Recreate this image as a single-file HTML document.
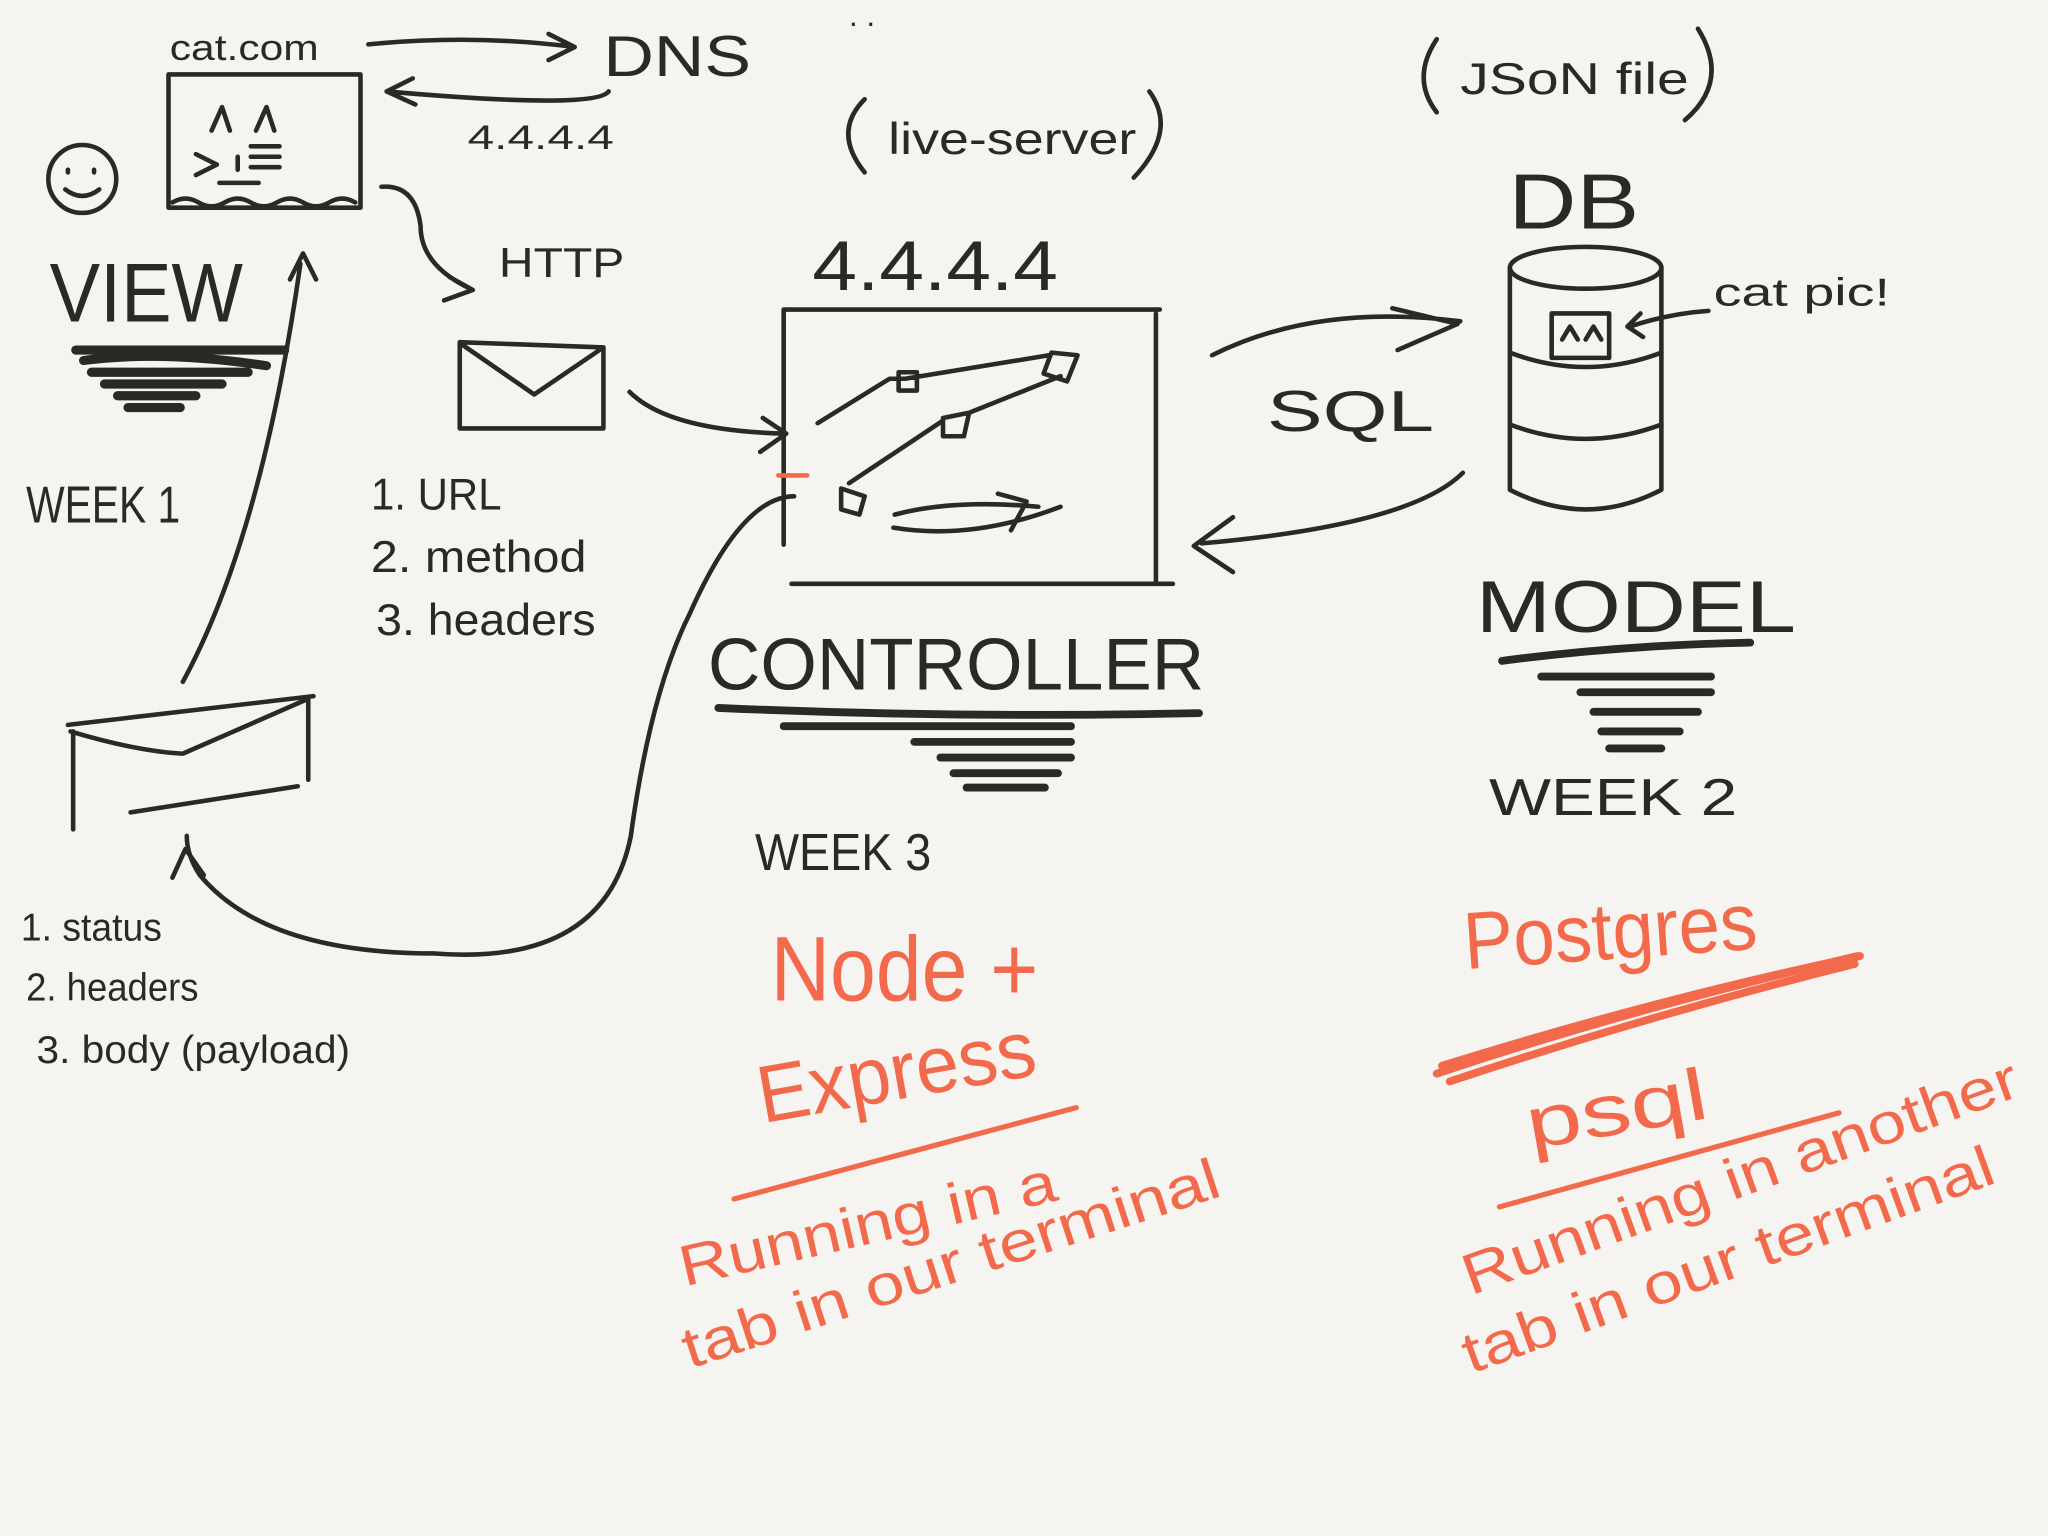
<!DOCTYPE html>
<html><head><meta charset="utf-8"><style>
html,body{margin:0;padding:0;background:#f5f4f0;}
svg{display:block}
text{font-family:"Liberation Sans",sans-serif;fill:#2a2926}
.o{fill:#f26a4b}
</style></head><body>
<svg width="2048" height="1536" viewBox="0 0 1568 1176" xmlns="http://www.w3.org/2000/svg">
<rect width="1568" height="1176" fill="#f5f4f0"/>
<g fill="none" stroke="#2a2926" stroke-width="3.5" stroke-linecap="round" stroke-linejoin="round">
<rect x="129" y="57" width="147" height="102"/>
<path d="M132 155 q10 -6 20 0 q10 6 20 0 q10 -6 20 0 q10 6 20 0 q10 -6 20 0 q10 6 20 0 q10 -6 20 0"/>
<path d="M162 100 l8 -18 l6 18 M196 100 l8 -18 l6 18 M150 118 l16 8 l-16 8 M182 120 v10 M192 112 h22 M192 120 h22 M192 128 h22 M168 140 h30"/>
<circle cx="63" cy="137" r="26"/>
<path d="M52 130 v2 M72 130 v2 M50 145 q13 10 26 0"/>
<path d="M282 34 q80 -8 158 2 M420 26 l20 10 l-20 10"/>
<path d="M466 70 q-10 14 -170 0 M316 60 l-20 10 l22 10"/>
<path d="M292 143 q26 -2 30 30 q0 30 38 48 M344 212 l18 10 l-22 8"/>
<path d="M352 262 v66 h110 v-62 z M354 264 l55 38 l50 -34"/>
<path d="M482 300 q30 30 120 32 M584 320 l18 12 l-20 14"/>
<path d="M600 237 h288 M600 237 v180 M885 240 v205 M606 447 h292"/>
<path d="M626 324 l55 -34 h12 l110 -18 M688 285 h14 v14 h-14 z M805 270 l20 2 l-8 20 l-18 -6 z M650 370 l72 -48 M722 320 l20 -4 l-4 18 l-16 0 z M742 316 l70 -28 M644 374 l18 6 l-4 14 l-14 -4 z M685 394 q45 -12 110 -6 M684 404 q60 10 128 -16 M764 378 l22 6 l-12 22"/>
<path d="M608 380 q-40 0 -80 90 q-30 60 -45 170 q-20 100 -150 90 q-130 0 -180 -60 q-10 -15 -10 -30 M132 672 l10 -22 l14 20" />
<path d="M596 364 h22" stroke="#f26a4b"/>
<path d="M52 555 l188 -22 M56 560 v75 M236 535 v62 M100 622 l128 -20 M54 560 q50 15 85 17 M140 577 l96 -42"/>
<path d="M140 522 q60 -110 90 -320 M222 214 l10 -20 l10 20"/>
<path d="M928 272 q80 -40 190 -26 M1066 236 l50 12 l-46 20"/>
<path d="M1120 362 q-40 40 -200 54 M944 396 l-30 22 l30 20"/>
<ellipse cx="1214" cy="205" rx="58" ry="16"/>
<path d="M1156 205 v170 q58 30 116 0 v-170"/>
<path d="M1156 270 q58 22 116 0 M1156 325 q58 22 116 0"/>
<rect x="1188" y="240" width="44" height="34"/>
<path d="M1196 260 l6 -10 l6 10 M1214 260 l6 -10 l6 10"/>
<path d="M1248 250 q30 -10 60 -12 M1256 240 l-10 10 l12 8"/>
<path d="M58 268 h160 M64 276 q60 -8 140 4 M70 285 h120 M80 294 h90 M90 303 h60 M98 312 h40" stroke-width="7"/>
<path d="M550 542 q180 8 368 4 M600 556 h220 M700 568 h120 M720 580 h100 M730 592 h80 M740 603 h60" stroke-width="6"/>
<path d="M1150 506 q90 -12 190 -14 M1180 518 h130 M1210 530 h100 M1220 545 h80 M1226 560 h60 M1232 573 h40" stroke-width="6"/>
<path d="M662 76 q-25 25 0 56 M880 70 q22 30 -12 66"/>
<path d="M1100 30 q-20 30 0 56 M1300 22 q25 40 -10 70"/>
</g>
<g fill="none" stroke="#f26a4b" stroke-width="4" stroke-linecap="round">
<path d="M562 918 l262 -70"/>
<path d="M1100 822 q150 -50 322 -90 M1104 816 q160 -50 320 -84 M1110 828 q150 -50 310 -90" stroke-width="6"/>
<path d="M1148 924 l260 -72"/>
</g>
<g lengthAdjust="spacingAndGlyphs">
<text x="130" y="46" font-size="28" textLength="114" lengthAdjust="spacingAndGlyphs">cat.com</text>
<text x="462" y="58" font-size="44" textLength="113" lengthAdjust="spacingAndGlyphs">DNS</text>
<text x="358" y="114" font-size="26" textLength="112" lengthAdjust="spacingAndGlyphs">4.4.4.4</text>
<text x="680" y="118" font-size="34" textLength="190" lengthAdjust="spacingAndGlyphs">live-server</text>
<text x="1118" y="72" font-size="34" textLength="175" lengthAdjust="spacingAndGlyphs">JSoN file</text>
<text x="1155" y="175" font-size="60" textLength="100" lengthAdjust="spacingAndGlyphs">DB</text>
<text x="1312" y="234" font-size="30" textLength="135" lengthAdjust="spacingAndGlyphs">cat pic!</text>
<text x="382" y="212" font-size="32" textLength="96" lengthAdjust="spacingAndGlyphs">HTTP</text>
<text x="622" y="222" font-size="54" textLength="188" lengthAdjust="spacingAndGlyphs">4.4.4.4</text>
<text x="38" y="246" font-size="64" textLength="148" lengthAdjust="spacingAndGlyphs">VIEW</text>
<text x="20" y="400" font-size="40" textLength="118" lengthAdjust="spacingAndGlyphs">WEEK 1</text>
<text x="284" y="390" font-size="34" textLength="100" lengthAdjust="spacingAndGlyphs">1. URL</text>
<text x="284" y="438" font-size="34" textLength="165" lengthAdjust="spacingAndGlyphs">2. method</text>
<text x="288" y="486" font-size="34" textLength="168" lengthAdjust="spacingAndGlyphs">3. headers</text>
<text x="970" y="330" font-size="44" textLength="128" lengthAdjust="spacingAndGlyphs">SQL</text>
<text x="542" y="528" font-size="56" textLength="380" lengthAdjust="spacingAndGlyphs">CONTROLLER</text>
<text x="1130" y="484" font-size="56" textLength="245" lengthAdjust="spacingAndGlyphs">MODEL</text>
<text x="1140" y="624" font-size="40" textLength="190" lengthAdjust="spacingAndGlyphs">WEEK 2</text>
<text x="578" y="666" font-size="40" textLength="135" lengthAdjust="spacingAndGlyphs">WEEK 3</text>
<text x="16" y="720" font-size="30" textLength="108" lengthAdjust="spacingAndGlyphs">1. status</text>
<text x="20" y="766" font-size="30" textLength="132" lengthAdjust="spacingAndGlyphs">2. headers</text>
<text x="28" y="814" font-size="30" textLength="240" lengthAdjust="spacingAndGlyphs">3. body (payload)</text>
<text x="590" y="766" font-size="70" class="o" textLength="205" lengthAdjust="spacingAndGlyphs">Node +</text>
<text x="584" y="860" font-size="62" class="o" transform="rotate(-10 584 860)" textLength="215" lengthAdjust="spacingAndGlyphs">Express</text>
<text x="1122" y="742" font-size="62" class="o" transform="rotate(-4 1122 742)" textLength="225" lengthAdjust="spacingAndGlyphs">Postgres</text>
<text x="1172" y="880" font-size="56" class="o" transform="rotate(-10 1172 880)" textLength="140" lengthAdjust="spacingAndGlyphs">psql</text>
<text x="524" y="985" font-size="44" class="o" transform="rotate(-13 524 985)" textLength="295" lengthAdjust="spacingAndGlyphs">Running in a</text>
<text x="528" y="1048" font-size="44" class="o" transform="rotate(-18 528 1048)" textLength="430" lengthAdjust="spacingAndGlyphs">tab in our terminal</text>
<text x="1126" y="992" font-size="44" class="o" transform="rotate(-20 1126 992)" textLength="450" lengthAdjust="spacingAndGlyphs">Running in another</text>
<text x="1126" y="1052" font-size="44" class="o" transform="rotate(-20 1126 1052)" textLength="430" lengthAdjust="spacingAndGlyphs">tab in our terminal</text>
<text x="650" y="20" font-size="24">. .</text>
</g>
</svg>
</body></html>
